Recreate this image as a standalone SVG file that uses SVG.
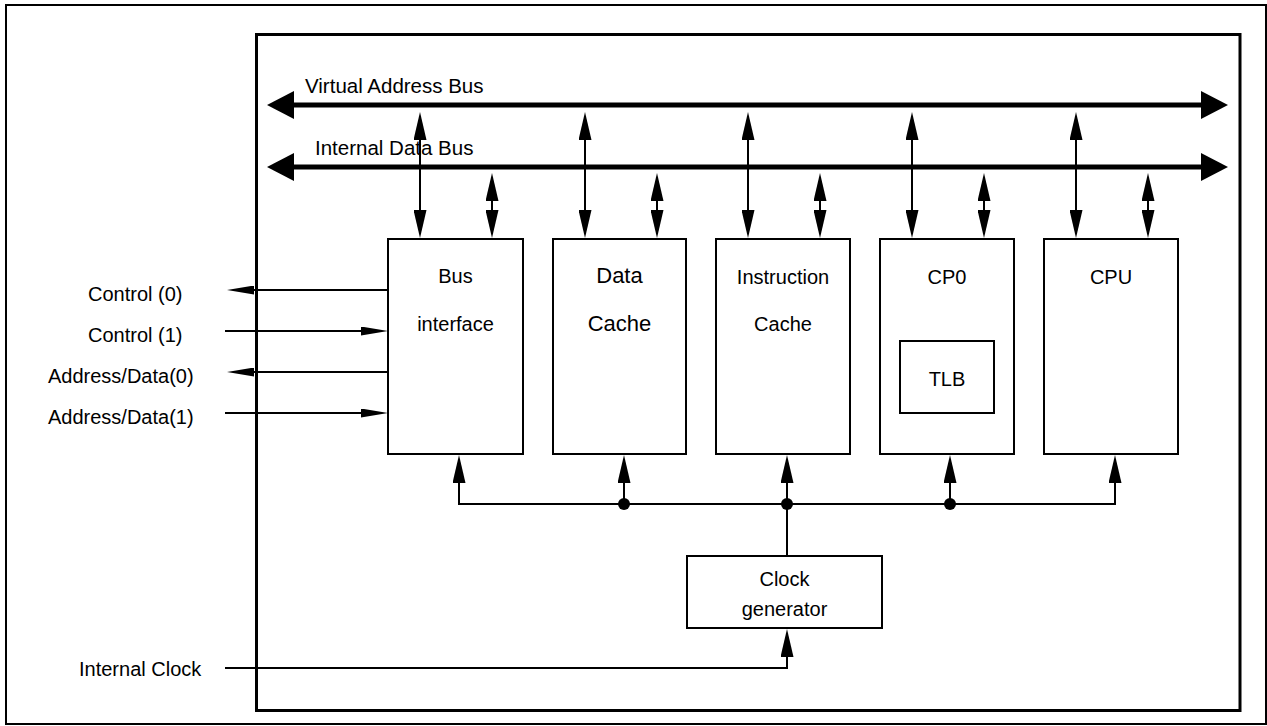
<svg xmlns="http://www.w3.org/2000/svg" width="1267" height="726" viewBox="0 0 1267 726">
  <style>
    .frame { fill: none; stroke: #000; }
    .box { fill: #fff; stroke: #000; stroke-width: 2; }
    .wire { fill: none; stroke: #000; stroke-width: 2; }
    .bus { fill: none; stroke: #000; stroke-width: 5; }
    text { font-family: "Liberation Sans", Arial, sans-serif; font-size: 20px; fill: #000; }
    .mid { text-anchor: middle; }
    .big { font-size: 22px; }
    .buslabel { font-size: 20.5px; }
  </style>
  <defs>
    <!-- arrowheads are anchored at their base so line ends stay hidden -->
    <marker id="ah" markerUnits="userSpaceOnUse" markerWidth="28" markerHeight="13" refX="0" refY="6.5" orient="auto-start-reverse">
      <path d="M0,0 L28,6.5 L0,13 z" fill="#000"/>
    </marker>
    <marker id="ahN" markerUnits="userSpaceOnUse" markerWidth="27" markerHeight="9" refX="0" refY="4.5" orient="auto-start-reverse">
      <path d="M0,0 L27,4.5 L0,9 z" fill="#000"/>
    </marker>
    <marker id="ahBus" markerUnits="userSpaceOnUse" markerWidth="27" markerHeight="28" refX="0" refY="14" orient="auto-start-reverse">
      <path d="M0,0 L27,14 L0,28 z" fill="#000"/>
    </marker>
  </defs>

  <!-- outer border and chip boundary -->
  <rect class="frame" x="6" y="5" width="1260" height="719" stroke-width="2"/>
  <rect class="frame" x="256.5" y="34.5" width="983.5" height="676" stroke-width="3"/>

  <!-- functional blocks -->
  <g id="bus-interface">
    <rect class="box" x="388" y="239" width="135" height="215"/>
    <text class="mid" x="455.5" y="283">Bus</text>
    <text class="mid" x="455.5" y="331">interface</text>
  </g>
  <g id="data-cache">
    <rect class="box" x="553" y="239" width="133" height="215"/>
    <text class="mid big" x="619.5" y="283">Data</text>
    <text class="mid big" x="619.5" y="331">Cache</text>
  </g>
  <g id="instruction-cache">
    <rect class="box" x="716" y="239" width="134" height="215"/>
    <text class="mid" x="783" y="284">Instruction</text>
    <text class="mid" x="783" y="331">Cache</text>
  </g>
  <g id="cp0">
    <rect class="box" x="880" y="239" width="134" height="215"/>
    <text class="mid" x="947" y="284">CP0</text>
  </g>
  <g id="tlb">
    <rect class="box" x="900" y="341" width="94" height="72"/>
    <text class="mid" x="947" y="386">TLB</text>
  </g>
  <g id="cpu">
    <rect class="box" x="1044" y="239" width="134" height="215"/>
    <text class="mid" x="1111" y="284">CPU</text>
  </g>
  <g id="clock-generator">
    <rect class="box" x="687" y="556" width="195" height="72"/>
    <text class="mid" x="784.5" y="586">Clock</text>
    <text class="mid" x="784.5" y="616">generator</text>
  </g>

  <!-- bus labels and external signal labels -->
  <g id="labels">
    <text class="buslabel" x="305" y="93">Virtual Address Bus</text>
    <text class="buslabel" x="315" y="155">Internal Data Bus</text>
    <text x="88" y="301">Control (0)</text>
    <text x="88" y="342">Control (1)</text>
    <text x="48" y="383">Address/Data(0)</text>
    <text x="48" y="424">Address/Data(1)</text>
    <text x="79" y="676">Internal Clock</text>
  </g>

  <g id="connectors">
    <!-- main buses -->
    <line class="bus" x1="294" y1="105" x2="1201" y2="105" marker-start="url(#ahBus)" marker-end="url(#ahBus)"/>
    <line class="bus" x1="294" y1="167" x2="1201" y2="167" marker-start="url(#ahBus)" marker-end="url(#ahBus)"/>

    <!-- virtual address bus taps -->
    <line class="wire" x1="420" y1="140" x2="420" y2="210" marker-start="url(#ah)" marker-end="url(#ah)"/>
    <line class="wire" x1="585" y1="140" x2="585" y2="210" marker-start="url(#ah)" marker-end="url(#ah)"/>
    <line class="wire" x1="748" y1="140" x2="748" y2="210" marker-start="url(#ah)" marker-end="url(#ah)"/>
    <line class="wire" x1="912" y1="140" x2="912" y2="210" marker-start="url(#ah)" marker-end="url(#ah)"/>
    <line class="wire" x1="1076" y1="140" x2="1076" y2="210" marker-start="url(#ah)" marker-end="url(#ah)"/>

    <!-- internal data bus taps -->
    <line class="wire" x1="492" y1="201" x2="492" y2="210" marker-start="url(#ah)" marker-end="url(#ah)"/>
    <line class="wire" x1="657" y1="201" x2="657" y2="210" marker-start="url(#ah)" marker-end="url(#ah)"/>
    <line class="wire" x1="820" y1="201" x2="820" y2="210" marker-start="url(#ah)" marker-end="url(#ah)"/>
    <line class="wire" x1="984" y1="201" x2="984" y2="210" marker-start="url(#ah)" marker-end="url(#ah)"/>
    <line class="wire" x1="1148" y1="201" x2="1148" y2="210" marker-start="url(#ah)" marker-end="url(#ah)"/>

    <!-- external bus interface signals -->
    <line class="wire" x1="388" y1="290" x2="254" y2="290" marker-end="url(#ahN)"/>
    <line class="wire" x1="225" y1="331" x2="361" y2="331" marker-end="url(#ahN)"/>
    <line class="wire" x1="388" y1="372" x2="254" y2="372" marker-end="url(#ahN)"/>
    <line class="wire" x1="225" y1="413" x2="361" y2="413" marker-end="url(#ahN)"/>

    <!-- clock distribution -->
    <path class="wire" d="M459,483 L459,504 L1115,504 L1115,483" marker-start="url(#ah)" marker-end="url(#ah)"/>
    <line class="wire" x1="624" y1="504" x2="624" y2="483" marker-end="url(#ah)"/>
    <line class="wire" x1="787" y1="504" x2="787" y2="483" marker-end="url(#ah)"/>
    <line class="wire" x1="950" y1="504" x2="950" y2="483" marker-end="url(#ah)"/>
    <line class="wire" x1="787" y1="504" x2="787" y2="556"/>
    <circle cx="624" cy="504" r="6"/>
    <circle cx="787" cy="504" r="6"/>
    <circle cx="950" cy="504" r="6"/>

    <!-- clock input -->
    <path class="wire" d="M225,668 L787,668 L787,657" marker-end="url(#ah)"/>
  </g>
</svg>
